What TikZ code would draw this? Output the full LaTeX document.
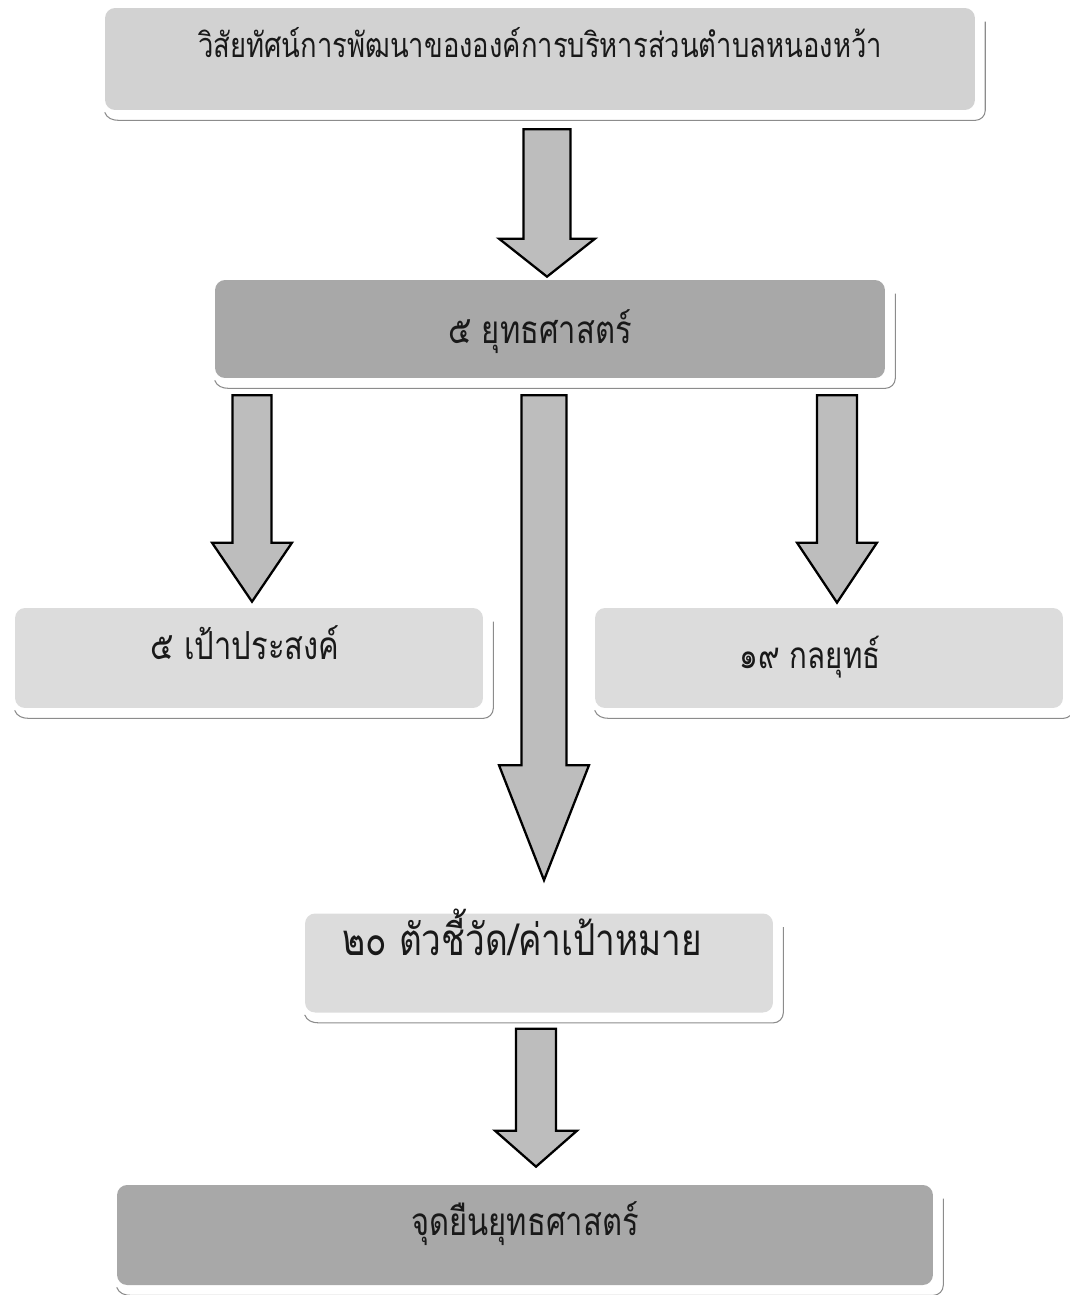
\documentclass[tikz,border=0pt]{standalone}
\usepackage{fontspec}
\usepackage{tikz}
\usetikzlibrary{calc}
\usepackage{xcolor}
\newfontfamily\thaifont[Script=Thai,FakeStretch=0.8]{Loma}
\definecolor{boxlight}{HTML}{DCDCDC}
\definecolor{boxmid}{HTML}{D2D2D2}
\definecolor{boxdark}{HTML}{A8A8A8}
\definecolor{arrowgray}{HTML}{BDBDBD}
% #1 top of shaft, #2 tip, #3 half shaft, #4 half head, #5 head length
\newcommand{\blockarrow}[5] {
    \draw[arrowbody] ($(#1)+(-#3,0)$) -- ($(#1)+(#3,0)$)
        -- ($(#1|-#2)+(#3,-#5)$) -- ($(#1|-#2)+(#4,-#5)$) -- (#1|-#2)
        -- ($(#1|-#2)+(-#4,-#5)$) -- ($(#1|-#2)+(-#3,-#5)$) -- cycle;
}

\begin{document}
\begin{tikzpicture}[x=0.02cm,y=-0.02cm]
    \tikzset{
        plan/.style={rounded corners=0.2cm,inner sep=0pt,text=black!90,
            text height=0.6cm,font=\thaifont\fontsize{22}{26}\selectfont},
        shadowline/.style={draw=black!45,line width=0.6pt},
        arrowbody/.style={draw=black,line width=1.3pt,fill=arrowgray}
    }
    \useasboundingbox (0,0) rectangle (1070,1295);
    % boxes
    \node[plan,fill=boxmid,minimum width=17.4cm,minimum height=2.04cm,
        text depth=0.66cm,font=\thaifont\fontsize{19.5}{23}\selectfont]
        (vision) at (540,59)
        {วิสัยทัศน์การพัฒนาขององค์การบริหารส่วนตำบลหนองหว้า};
    \node[plan,fill=boxdark,minimum width=13.4cm,minimum height=1.96cm,
        text depth=0.02cm] (strat) at (550,329) {๕ ยุทธศาสตร์\kern0.4cm};
    \node[plan,fill=boxlight,minimum width=9.36cm,minimum height=2cm,
        text depth=0.54cm] (goal) at (249,658) {๕ เป้าประสงค์\kern0.16cm};
    \node[plan,fill=boxlight,minimum width=9.36cm,minimum height=2cm,
        text depth=0.2cm,font=\thaifont\fontsize{21}{25}\selectfont]
        (tactic) at (829,658) {๑๙ กลยุทธ์\kern0.76cm};
    \node[plan,fill=boxlight,minimum width=9.36cm,minimum height=1.98cm,
        text depth=0.92cm,font=\thaifont\fontsize{25}{29}\selectfont]
        (kpi) at (539,963) {๒๐ ตัวชี้วัด/ค่าเป้าหมาย\kern0.66cm};
    \node[plan,fill=boxdark,minimum width=16.32cm,minimum height=2cm,
        text depth=0.58cm] (stand) at (525,1235) {จุดยืนยุทธศาสตร์};
    % shadows
    \foreach \n in {vision,strat,goal,tactic,kpi,stand}
        \draw[shadowline] ($(\n.south west)+(0,2)$) to[out=-70,in=180]
            ($(\n.south west)+(14,10)$) -- ($(\n.south east)+(0,10)$)
            to[out=0,in=-90] ($(\n.south east)+(10,0)$)
            -- ($(\n.north east)+(10,14)$);
    % arrows
    \coordinate (a1) at ($(vision.south)+(7,19)$);
    \coordinate (b1) at ($(strat.north)+(0,-3)$);
    \coordinate (a2) at ($(strat.south)+(-298,17)$);
    \coordinate (b2) at ($(goal.north)+(0,-6)$);
    \coordinate (a3) at ($(strat.south)+(-6,17)$);
    \coordinate (b3) at ($(kpi.north)+(0,-33)$);
    \coordinate (a4) at ($(strat.south)+(287,17)$);
    \coordinate (b4) at ($(tactic.north)+(0,-5)$);
    \coordinate (a5) at ($(kpi.south)+(-3,16)$);
    \coordinate (b5) at ($(stand.north)+(0,-18)$);
    \blockarrow{a1}{b1}{23.5}{48}{38}
    \blockarrow{a2}{b2}{19.5}{40}{59}
    \blockarrow{a3}{b3}{22.5}{45}{115}
    \blockarrow{a4}{b4}{20}{40}{60}
    \blockarrow{a5}{b5}{20}{41}{36}
\end{tikzpicture}
\end{document}
